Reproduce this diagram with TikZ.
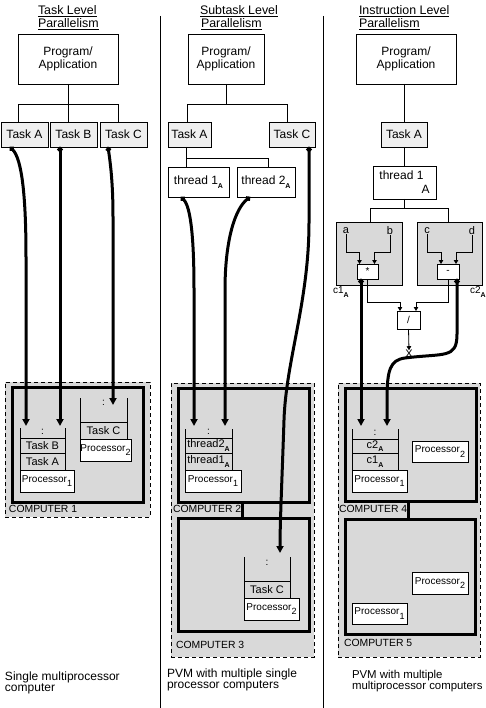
\documentclass[tikz,border=0pt]{standalone}
\usepackage{fontspec}
\setmainfont{Liberation Sans}
\usetikzlibrary{arrows.meta}
\definecolor{taskgray}{HTML}{EFEFEF}
\definecolor{compgray}{HTML}{D9D9D9}
\newcommand\mybox[7]{\node[#1, minimum width={(#5)-(#3)}, minimum height={(#6)-(#4)}] (#2) at ({((#3)+(#5))/2},{((#4)+(#6))/2}) {#7};}
\newcommand\ssub[1]{\raisebox{-0.6ex}{\fontsize{7}{7}\selectfont\bfseries #1}}
\newcommand\psub[1]{\raisebox{-0.8ex}{\fontsize{9}{9}\selectfont #1}}
\begin{document}
\begin{tikzpicture}[x=1pt,y=-1pt,
  every node/.style={inner sep=0pt, outer sep=0pt},
  hdr/.style={anchor=base west, font=\fontsize{12.4}{14}\selectfont},
  bx/.style={draw, line width=0.8pt, align=center},
  prog/.style={bx, fill=white, font=\fontsize{12}{13.5}\selectfont},
  task/.style={bx, fill=taskgray, font=\fontsize{12}{14}\selectfont},
  thr/.style={bx, fill=white, font=\fontsize{12}{14}\selectfont},
  grp/.style={bx, fill=compgray},
  opbox/.style={bx, fill=white, font=\fontsize{10}{12}\selectfont},
  letter/.style={font=\fontsize{11}{12}\selectfont},
  cell/.style={draw, line width=0.6pt, font=\fontsize{11}{12}\selectfont},
  cline/.style={line width=0.6pt},
  colon/.style={font=\fontsize{10}{12}\selectfont},
  proc/.style={draw, line width=0.8pt, fill=white, font=\fontsize{10}{12}\selectfont},
  outerbox/.style={draw, line width=0.7pt, dash pattern=on 4pt off 3pt, fill=compgray},
  comp/.style={draw, line width=3pt, fill=compgray},
  clabel/.style={anchor=west, font=\fontsize{10.4}{12}\selectfont},
  blabel/.style={anchor=north west, align=left, font=\fontsize{12}{11}\selectfont},
  tree/.style={line width=0.8pt},
  sepline/.style={line width=0.8pt},
  flow/.style={line width=3pt, arrows={Circle[length=5pt]-Triangle[length=7pt,width=7pt]}},
  small/.style={line width=0.8pt, arrows={-Triangle[length=4pt,width=4.5pt]}}
]
\useasboundingbox (0,0) rectangle (486,708);

% separators
\coordinate (sepAt) at (160,16); \coordinate (sepAb) at (160,708);
\coordinate (sepBt) at (323,16); \coordinate (sepBb) at (323,708);
\draw[sepline] (sepAt) -- (sepAb);
\draw[sepline] (sepBt) -- (sepBb);

% headers
\node[hdr] (h1a) at (38,15) {\underline{Task Level}};
\node[hdr] (h1b) at (38,27.5) {\underline{Parallelism}};
\node[hdr] (h2a) at (200,15) {\underline{Subtask Level}};
\node[hdr] (h2b) at (201,27.5) {\underline{Parallelism}};
\node[hdr] (h3a) at (359,15) {\underline{Instruction Level}};
\node[hdr] (h3b) at (359,27.5) {\underline{Parallelism}};

% program boxes
\mybox{prog}{prog1}{18}{34}{118}{84}{Program/\\Application}
\mybox{prog}{prog2}{188}{34}{264}{84}{Program/\\Application}
\mybox{prog}{prog3}{356}{34}{456}{84}{Program/\\Application}

% tasks
\mybox{task}{tA1}{1}{122}{48}{147}{Task A}
\mybox{task}{tB1}{50}{122}{97}{147}{Task B}
\mybox{task}{tC1}{100}{122}{147}{147}{Task C}
\mybox{task}{tA2}{168}{122}{211}{147}{Task A}
\mybox{task}{tC2}{269}{122}{315}{147}{Task C}
\mybox{task}{tA3}{381}{122}{427}{147}{Task A}

% threads
\mybox{thr}{th21}{168}{167}{229}{197}{thread 1\ssub{A}}
\mybox{thr}{th22}{237}{167}{295}{197}{thread 2\ssub{A}}
\mybox{thr,align=right}{th3}{373}{166}{436}{199}{thread 1\hspace*{6pt}\\A}

% trees
\coordinate (j1) at (68,104);
\draw[tree] (prog1.south) -- (j1);
\draw[tree] (j1) -| ([xshift=17]tA1.north west);
\draw[tree] (j1) -| ([xshift=18]tB1.north west);
\draw[tree] (j1) -| ([xshift=18]tC1.north west);
\coordinate (j2) at (226,104);
\draw[tree] (prog2.south) -- (j2);
\draw[tree] (j2) -| ([xshift=19]tA2.north west);
\draw[tree] (j2) -| ([xshift=18]tC2.north west);
\coordinate (k2) at (186,158);
\draw[tree] ([xshift=18]tA2.south west) -- ([xshift=18]th21.north west);
\draw[tree] (k2) -| ([xshift=31]th22.north west);
\draw[tree] (tA3.north |- prog3.south) -- (tA3.north);
\draw[tree] (tA3.south) -- (tA3.south |- th3.north);

% instruction level groups
\mybox{grp}{gL}{336}{222}{402}{285}{}
\mybox{grp}{gR}{417}{222}{482}{285}{}
\coordinate (j3) at (404,208);
\draw[tree] (th3.south -| tA3.south) -- (j3);
\draw[tree] (j3) -| ([xshift=34]gL.north west);
\draw[tree] (j3) -| ([xshift=31]gR.north west);
\node[letter] (la) at (346,231) {a};
\node[letter] (lb) at (390,231) {b};
\node[letter] (lc) at (427,231) {c};
\node[letter] (ld) at (472,231) {d};
\mybox{opbox}{star}{357}{264}{378}{279}{*}
\mybox{opbox}{minus}{437}{264}{459}{279}{-}
\mybox{opbox}{slash}{397}{311}{420}{329}{/}
\node[letter] (xx) at (409,354) {X};
\node[letter, anchor=west, font=\fontsize{10}{12}\selectfont] (c1) at (333,292) {c1\ssub{A}};
\node[letter, anchor=west, font=\fontsize{10}{12}\selectfont] (c2) at (470,292) {c2\ssub{A}};
\draw[small] (la.south) -- (la.south |- 0,252) -| ([xshift=2.5]star.north west);
\draw[small] (lb.south) -- (lb.south |- 0,252) -| ([xshift=17.5]star.north west);
\draw[small] (lc.south) -- (lc.south |- 0,252) -| ([xshift=4]minus.north west);
\draw[small] (ld.south) -- (ld.south |- 0,252) -| ([xshift=19]minus.north west);
\draw[small] ([xshift=10]star.south west) -- ++(0,23) -| ([xshift=3]slash.north west);
\draw[small] ([xshift=11]minus.south west) -- ++(0,23) -| ([xshift=19]slash.north west);
\draw[small] (slash.south) -- (xx.north);

% computers
\mybox{outerbox}{o1}{5}{382}{150}{517}{}
\mybox{comp}{cp1}{12}{387}{143}{502}{}
\node[clabel] (cl1) at (9,509) {COMPUTER 1};

\mybox{outerbox}{o2}{171}{383}{314}{657}{}
\mybox{comp}{cp2}{178}{388}{309}{502}{}
\mybox{comp}{cp3}{178}{518}{309}{631}{}
\node[clabel] (cl2) at (173,509) {COMPUTER 2};
\node[clabel] (cl3) at (176,645) {COMPUTER 3};
\draw[line width=3pt] ([xshift=64]cp2.south west) -- ([xshift=64]cp3.north west);

\mybox{outerbox}{o3}{338}{383}{480}{657}{}
\mybox{comp}{cp4}{345}{388}{476}{501}{}
\mybox{comp}{cp5}{345}{519}{475}{634}{}
\node[clabel] (cl4) at (339,509) {COMPUTER 4};
\node[clabel] (cl5) at (344,643) {COMPUTER 5};
\draw[line width=3pt] ([xshift=63]cp4.south west) -- ([xshift=63]cp5.north west);

% stacks computer 1
\mybox{cell}{s1b}{20}{438}{65}{453}{Task B}
\mybox{cell}{s1a}{20}{453}{65}{470}{Task A}
\mybox{proc}{p1a}{20}{470}{74}{492}{Processor\psub{1}}
\draw[cline] (s1b.north west) -- ++(0,-10);
\draw[cline] (s1b.north east) -- ++(0,-10);
\node[colon] (d1a) at (42.5,432) {:};
\mybox{cell}{s1c}{80}{422}{127}{439}{Task C}
\mybox{proc}{p1b}{80}{439}{131}{461}{Processor\psub{2}}
\draw[cline] (s1c.north west) -- ++(0,-24);
\draw[cline] (s1c.north east) -- ++(0,-24);
\node[colon] (d1b) at (103.5,403) {:};

% stacks computer 2 and 3
\mybox{cell}{s2b}{185}{438}{232}{453}{thread2\ssub{A}}
\mybox{cell}{s2a}{185}{453}{232}{470}{thread1\ssub{A}}
\mybox{proc}{p2a}{185}{470}{241}{492}{Processor\psub{1}}
\draw[cline] (s2b.north west) -- ++(0,-9);
\draw[cline] (s2b.north east) -- ++(0,-9);
\node[colon] (d2a) at (208.5,432) {:};
\mybox{cell}{s3c}{244}{581}{290}{598}{Task C}
\mybox{proc}{p3b}{244}{598}{299}{620}{Processor\psub{2}}
\draw[cline] (s3c.north west) -- ++(0,-24);
\draw[cline] (s3c.north east) -- ++(0,-24);
\node[colon] (d3a) at (267,563) {:};

% stacks computer 4 and 5
\mybox{cell}{s4b}{352}{439}{398}{453}{c2\ssub{A}}
\mybox{cell}{s4a}{352}{453}{398}{470}{c1\ssub{A}}
\mybox{proc}{p4a}{352}{470}{407}{492}{Processor\psub{1}}
\draw[cline] (s4b.north west) -- ++(0,-10);
\draw[cline] (s4b.north east) -- ++(0,-10);
\node[colon] (d4a) at (375,433) {:};
\mybox{proc}{p4b}{412}{441}{468}{462}{Processor\psub{2}}
\mybox{proc}{p5b}{412}{572}{468}{594}{Processor\psub{2}}
\mybox{proc}{p5a}{352}{603}{407}{624}{Processor\psub{1}}

% thick flow arrows
\coordinate (e1a) at (26,426);
\coordinate (e1b) at (60,426);
\coordinate (e1c) at (113,405);
\draw[flow] ([xshift=9]tA1.south west) .. controls +(12,12) and +(0,-60) .. (e1a |- 0,257) -- (e1a);
\draw[flow] ([xshift=10]tB1.south west) -- (e1b);
\draw[flow] ([xshift=8]tC1.south west) .. controls +(3,20) and +(0,-30) .. (e1c |- 0,217) -- (e1c);

\coordinate (e2a) at (194,426);
\coordinate (e2b) at (225,426);
\coordinate (e2c) at (280,553);
\coordinate (m2c) at (284,420);
\draw[flow] ([xshift=13]th21.south west) .. controls +(10,10) and +(0,-50) .. (e2a |- 0,290) -- (e2a);
\draw[flow] ([xshift=13]th22.south west) .. controls +(-15,12) and +(0,-50) .. (e2b |- 0,290) -- (e2b);
\draw[flow] ([xshift=40]tC2.south west) -- ++(0,75) .. controls +(0,80) and +(2,-60) .. (m2c) .. controls +(-2,60) and +(0,-30) .. (e2c);

\coordinate (e4a) at (361,426);
\coordinate (e4b) at (387,426);
\coordinate (m4b) at (405,358);
\draw[flow] ([xshift=4]star.south west) -- (e4a);
\draw[flow] ([xshift=20]minus.south west) -- ++(0,55) .. controls +(0,25) and +(40,-5) .. (m4b) .. controls +(-15,2) and +(0,-30) .. (e4b |- 0,400) -- (e4b);

% bottom labels
\node[blabel] (b1) at (5,672) {Single multiprocessor\\computer};
\node[blabel] (b2) at (167,669) {PVM with multiple single\\processor computers};
\node[blabel, font=\fontsize{11.4}{11}\selectfont] (b3) at (352,670) {PVM with multiple\\multiprocessor computers};
\end{tikzpicture}
\end{document}
